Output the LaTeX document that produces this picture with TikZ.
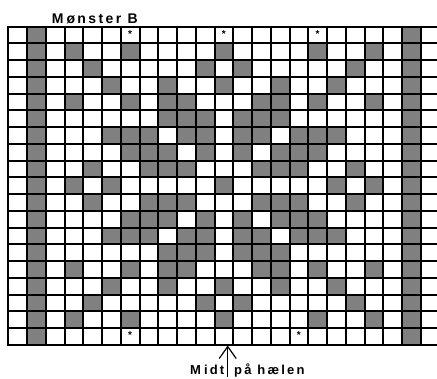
\documentclass[tikz,border=0pt]{standalone}
\usepackage{fontspec}
\setmainfont{Liberation Sans}
\newfontfamily\spacedfont[LetterSpace=17]{Liberation Sans}
\usetikzlibrary{arrows.meta}
\definecolor{cellgrey}{HTML}{808080}
\tikzset{
  cellfill/.style={fill=cellgrey},
  gridline/.style={line width=2pt, black},
  starmark/.style={font=\fontsize{10}{10}\selectfont\bfseries, inner sep=0pt, anchor=base},
  titletext/.style={font=\spacedfont\fontsize{14}{16}\selectfont\bfseries, inner sep=0pt, anchor=base west},
  caption/.style={font=\spacedfont\fontsize{13}{15}\selectfont\bfseries, inner sep=0pt, anchor=base west},
}
\begin{document}
\begin{tikzpicture}[x=1pt,y=-1pt]
\useasboundingbox (0,0) rectangle (437,379);
\def\gx{8.3}
\def\gw{18.75}
\def\gy{26.7}
\def\gh{16.75}
\begin{scope}
\clip (0,0) rectangle (437,379);
% grey cells
\foreach \r/\cl in {
  0/{1,21},
  1/{1,3,6,11,16,19,21},
  2/{1,4,10,12,18,21},
  3/{1,5,8,11,14,17,21},
  4/{1,3,6,8,9,13,14,16,19,21},
  5/{1,8,9,10,12,13,14,21},
  6/{1,5,6,7,9,10,12,13,15,16,17,21},
  7/{1,6,7,8,10,12,14,15,16,21},
  8/{1,4,7,8,9,13,14,15,18,21},
  9/{1,3,5,11,17,19,21},
  10/{1,4,7,8,9,13,14,15,18,21},
  11/{1,6,7,8,10,12,14,15,16,21},
  12/{1,5,6,7,9,10,12,13,15,16,17,21},
  13/{1,8,9,10,12,13,14,21},
  14/{1,3,6,8,9,13,14,16,19,21},
  15/{1,5,8,11,14,17,21},
  16/{1,4,10,12,18,21},
  17/{1,3,6,11,16,19,21},
  18/{1,21}}{
  \foreach \c in \cl {
    \fill[cellfill] ({\gx+\c*\gw},{\gy+\r*\gh}) rectangle ++(\gw,\gh);
  }
}
% grid lines
\foreach \c in {0,...,22}{
  \draw[gridline] ({\gx+\c*\gw},{\gy-1}) -- ({\gx+\c*\gw},{\gy+19*\gh+1});
}
\foreach \r in {0,...,19}{
  \draw[gridline] ({\gx-1},{\gy+\r*\gh}) -- (440,{\gy+\r*\gh});
}
\end{scope}
% stars
\node[starmark] (s1) at ({\gx+6.5*\gw},{\gy+11.2}) {*};
\node[starmark] (s2) at ({\gx+11.5*\gw},{\gy+11.2}) {*};
\node[starmark] (s3) at ({\gx+16.5*\gw},{\gy+11.2}) {*};
\node[starmark] (s4) at ({\gx+6.5*\gw},{\gy+18*\gh+10.8}) {*};
\node[starmark] (s5) at ({\gx+15.5*\gw},{\gy+18*\gh+10.8}) {*};
% title
\node[titletext] (title) at (51.7,24) {M\kern3pt ønster B};
% bottom label and arrow
\node[caption] (heel) at (190,374.3) {M\kern3pt idt\kern4pt{} på hælen};
\coordinate (tip) at (227.7,345.5);
\coordinate (tail) at (227.7,376.7);
\draw[line width=1.2pt, -{Straight Barb[length=12pt,width=17pt]}] (tail) -- (tip);
\end{tikzpicture}
\end{document}
